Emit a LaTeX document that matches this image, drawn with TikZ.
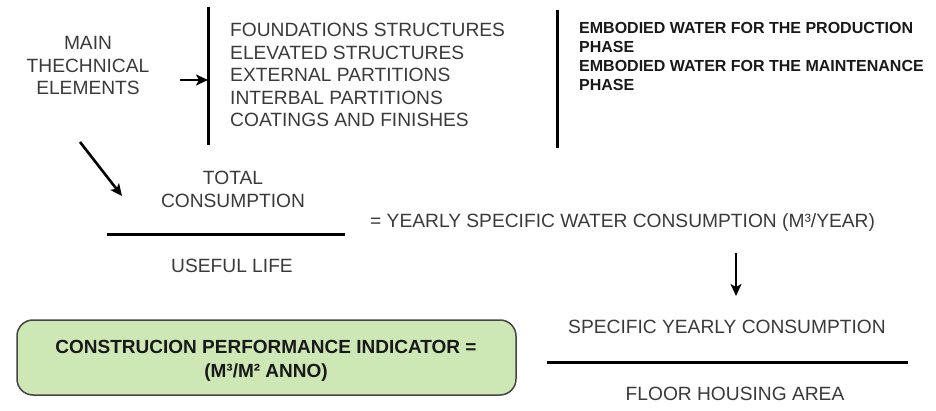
\documentclass[tikz,border=0pt]{standalone}
\usepackage{fontspec}
\setmainfont{Liberation Sans}
\usetikzlibrary{arrows.meta}
\definecolor{txtgray}{HTML}{3A3A3A}
\definecolor{boxgreen}{HTML}{CDE7B5}
\definecolor{boxline}{HTML}{454545}
\tikzset{
  plain/.style={inner sep=0pt, text=txtgray, font=\fontsize{19.2}{22.5}\selectfont},
  heavy/.style={inner sep=0pt, text=black!90, font=\bfseries\fontsize{16}{19.3}\selectfont},
  bar/.style={line width=3pt},
  arr/.style={line width=2.6pt, -{Stealth[length=12pt,width=11pt,inset=3pt]}}
}
\begin{document}
\begin{tikzpicture}[x=1pt, y=-1pt]
      \useasboundingbox (0, 0) rectangle (936, 411);
      %% elements and list
      \node[plain, align=center, anchor=base] (mainel) at (88, 95)
        {MAIN\\THECHNICAL\\ELEMENTS};
      \coordinate (barAtop) at (208, 7);
      \coordinate (barAbot) at (208, 145);
      \draw[bar](barAtop) to (barAbot);
      \coordinate (arrstart) at (180, 80);
      \draw[arr](arrstart) to (arrstart -| barAtop);
      \node[plain, align=left, anchor=base west] (parts) at (230, 127)
        {FOUNDATIONS STRUCTURES\\ELEVATED STRUCTURES\\EXTERNAL PARTITIONS\\INTERBAL PARTITIONS\\COATINGS AND FINISHES};

      %% embodied water
      \coordinate (barBtop) at (557, 10);
      \coordinate (barBbot) at (557, 148);
      \draw[bar](barBtop) to (barBbot);
      \node[heavy, align=left, anchor=base west] (embodied) at (579, 91)
        {EMBODIED WATER FOR THE PRODUCTION\\PHASE\\EMBODIED WATER FOR THE MAINTENANCE\\PHASE};

      %% first fraction
      \coordinate (diagfrom) at (80, 142);
      \coordinate (diagto) at (122, 196);
      \draw[arr](diagfrom) to (diagto);
      \node[plain, align=center, anchor=base, font=\fontsize{19.2}{23}\selectfont] (totcons) at (233, 208)
        {TOTAL\\CONSUMPTION};
      \coordinate (fracAl) at (107, 235);
      \coordinate (fracAr) at (345, 235);
      \draw[bar](fracAl) to (fracAr);
      \node[plain, anchor=base] (uselife) at (232, 273) {USEFUL LIFE};
      \node[plain, anchor=base west] (yearly) at (370, 228)
        {= YEARLY SPECIFIC WATER CONSUMPTION (M³/YEAR)};

      %% second fraction
      \coordinate (downfrom) at (736, 253);
      \coordinate (downto) at (736, 296);
      \draw[arr](downfrom) to (downto);
      \node[plain, anchor=base] (specons) at (727, 333) {SPECIFIC YEARLY CONSUMPTION};
      \coordinate (fracBl) at (547, 362);
      \coordinate (fracBr) at (908, 362);
      \draw[bar](fracBl) to (fracBr);
      \node[plain, anchor=base] (floorarea) at (735, 400) {FLOOR HOUSING AREA};

      %% indicator box
      \draw[fill=boxgreen, draw=boxline, line width=1.5pt, rounded corners=16pt]
        (17, 320) rectangle (516, 395);
      \node[inner sep=0pt, align=center, anchor=base, text=black!90,
        font=\bfseries\fontsize{19}{24}\selectfont] (indicator) at (266, 377)
        {CONSTRUCION PERFORMANCE INDICATOR =\\(M³/M² ANNO)};
\end{tikzpicture}
\end{document}
